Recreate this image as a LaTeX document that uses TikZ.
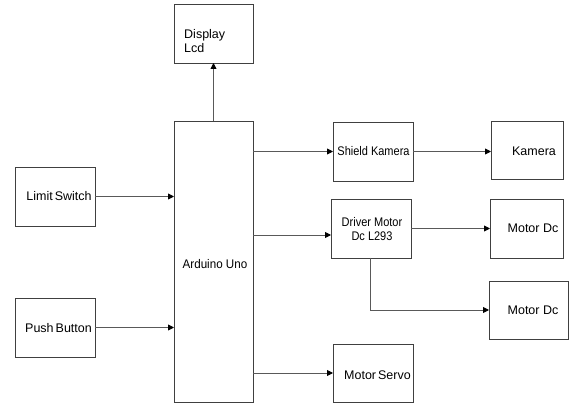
\documentclass[tikz,border=0pt]{standalone}
\usepackage{fontspec}
\setmainfont{Liberation Sans}
\newfontfamily\narrowA[FakeStretch=0.88]{Liberation Sans}
\newfontfamily\narrowB[FakeStretch=0.93]{Liberation Sans}
\usetikzlibrary{arrows.meta}
\begin{document}
\begin{tikzpicture}[x=1pt,y=-1pt,
  blk/.style={draw=black!75, line width=0.9pt, minimum width=#1, inner sep=0pt, outer sep=0pt},
  lbl/.style={font=\fontsize{12.5}{14}\selectfont, inner sep=0pt, align=center},
  conn/.style={draw=black!65, line width=0.9pt, -{Triangle[length=6pt,width=6pt,fill=black,color=black]}},
  wire/.style={draw=black!65, line width=0.9pt}]
\useasboundingbox (0,0) rectangle (571,403);
% boxes
\node[blk=79pt, minimum height=59pt] (disp) at (213.5,33.5) {};
\node[blk=79pt, minimum height=281pt] (ard) at (213.5,261.5) {};
\node[blk=80pt, minimum height=59pt] (ls) at (55,196.5) {};
\node[blk=80pt, minimum height=59pt] (pb) at (55,327.5) {};
\node[blk=80pt, minimum height=59pt] (sk) at (373,151.5) {};
\node[blk=72pt, minimum height=58pt] (kam) at (527,150) {};
\node[blk=80pt, minimum height=59pt] (dm) at (371,228.5) {};
\node[blk=73pt, minimum height=59pt] (md1) at (526.5,228.5) {};
\node[blk=79pt, minimum height=58pt] (md2) at (528.5,310) {};
\node[blk=80pt, minimum height=58pt] (ms) at (373,373) {};
% labels
\node[lbl, align=left, anchor=west] (dispt) at (184,41) {Display\\Lcd};
\node[lbl] (ardt) at (215,264) {\narrowB Arduino Uno};
\node[lbl] (lst) at (59,196) {Limit\kern2pt Switch};
\node[lbl] (pbt) at (58.5,328) {Push\kern2pt Button};
\node[lbl] (skt) at (373.5,151) {\narrowA Shield Kamera};
\node[lbl] (kamt) at (534,151) {Kamera};
\node[lbl] (dmt) at (372,229.5) {\narrowA Driver Motor\\\narrowA Dc L293};
\node[lbl] (md1t) at (533,228) {Motor Dc};
\node[lbl] (md2t) at (533,310) {Motor Dc};
\node[lbl] (mst) at (377.5,375) {Motor\kern2pt Servo};
% connectors
\coordinate (dmin) at (331,235);
\coordinate (bend) at (370,310);
\coordinate (dmout) at (370,258);
\draw[conn] (ard.north) -- (disp.south);
\draw[conn] (ls.east) -- (ls.east -| ard.west);
\draw[conn] (pb.east) -- (pb.east -| ard.west);
\draw[conn] (sk.west -| ard.east) -- (sk.west);
\draw[conn] (sk.east) -- (sk.east -| kam.west);
\draw[conn] (dmin -| ard.east) -- (dmin);
\draw[conn] (md1.west -| dm.east) -- (md1.west);
\draw[conn] (dmout) -- (bend) -- (md2.west);
\draw[conn] (ms.west -| ard.east) -- (ms.west);
\end{tikzpicture}
\end{document}
